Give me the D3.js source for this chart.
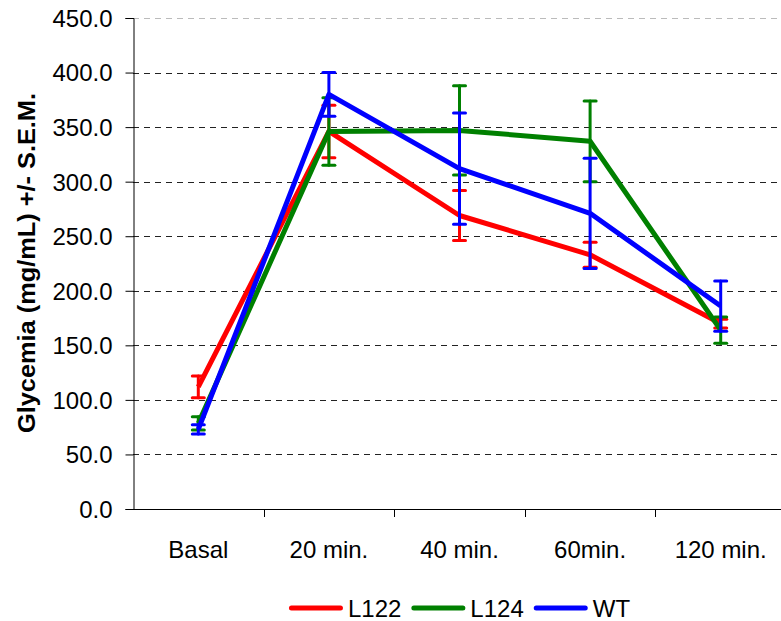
<!DOCTYPE html>
<html>
<head>
<meta charset="utf-8">
<script src="https://cdn.jsdelivr.net/npm/d3@7"></script>
<style>
  body { margin: 0; background: #fff; }
  text { font-family: "Liberation Sans", Arial, sans-serif; fill: #000; }
</style>
</head>
<body>
<div id="chart"></div>
<script>
const categories = ["Basal", "20 min.", "40 min.", "60min.", "120 min."];
const yTicks = [0, 50, 100, 150, 200, 250, 300, 350, 400, 450];

const l122Values = [112, 346, 269, 233, 170];
const l122Errors = [10, 24, 23, 11.5, 4];
const l124Values = [78.5, 346, 347, 337, 164];
const l124Errors = [6, 31, 41, 37, 12];
const wtValues = [73, 380, 312, 271, 186];
const wtErrors = [4.2, 20, 51, 50.5, 23];

const seriesNames = ["L122", "L124", "WT"];
const seriesColors = ["#ff0000", "#008000", "#0000ff"];

const width = 781, height = 621;

const series = [
  { name: seriesNames[0], color: seriesColors[0], values: l122Values, errors: l122Errors },
  { name: seriesNames[1], color: seriesColors[1], values: l124Values, errors: l124Errors },
  { name: seriesNames[2], color: seriesColors[2], values: wtValues, errors: wtErrors }
];

const svg = d3.select("#chart")
  .append("svg")
  .attr("width", width)
  .attr("height", height);

const x = d3.scaleBand()
  .domain(categories)
  .range([133, 786]);

const y = d3.scaleLinear()
  .domain([0, 450])
  .range([509, 18]);

// gridlines
svg.append("g")
  .selectAll("line")
  .data(yTicks.filter(d => d > 0))
  .enter()
  .append("line")
  .attr("x1", 133)
  .attr("x2", width)
  .attr("y1", d => Math.round(y(d)) + 0.5)
  .attr("y2", d => Math.round(y(d)) + 0.5)
  .attr("stroke", d => d === 450 ? "#bbb" : "#222")
  .attr("stroke-width", 1)
  .attr("stroke-dasharray", "6,5");

// y axis
const yAxis = svg.append("g")
  .attr("transform", "translate(133.5,0)")
  .call(d3.axisLeft(y).tickValues(yTicks).tickFormat(d3.format(".1f")).tickSize(8).tickPadding(13));
yAxis.select(".domain").attr("stroke", "#000");
yAxis.selectAll(".tick line").attr("stroke", "#000");
yAxis.selectAll(".tick text")
  .attr("font-size", 24)
  .attr("font-family", "Liberation Sans, Arial, sans-serif")
  .attr("dy", "0.35em");

// x axis
const xAxis = svg.append("g")
  .attr("transform", `translate(0,${Math.round(y(0)) + 0.5})`)
  .call(d3.axisBottom(x).tickSize(0).tickPadding(31));
xAxis.select(".domain").attr("d", `M133,0H${width}`).attr("stroke", "#000");
xAxis.selectAll(".tick text")
  .attr("font-size", 24)
  .attr("font-family", "Liberation Sans, Arial, sans-serif");

// category separators on x axis
svg.append("g")
  .selectAll("line")
  .data(categories.slice(1))
  .enter()
  .append("line")
  .attr("x1", d => Math.round(x(d)) + 0.5)
  .attr("x2", d => Math.round(x(d)) + 0.5)
  .attr("y1", Math.round(y(0)))
  .attr("y2", Math.round(y(0)) + 8)
  .attr("stroke", "#000");

const cx = d => x(d) + x.bandwidth() / 2;

const line = d3.line()
  .x((d, i) => cx(categories[i]))
  .y(d => y(d));

series.forEach(s => {
  const g = svg.append("g");

  g.append("path")
    .datum(s.values)
    .attr("fill", "none")
    .attr("stroke", s.color)
    .attr("stroke-width", 5)
    .attr("stroke-linejoin", "round")
    .attr("d", line);

  const bars = g.selectAll(".err")
    .data(s.values.map((v, i) => ({ cat: categories[i], v, e: s.errors[i] })))
    .enter()
    .append("g")
    .attr("stroke", s.color)
    .attr("stroke-width", 3)
    .attr("stroke-linecap", "round");

  bars.append("line")
    .attr("x1", d => cx(d.cat))
    .attr("x2", d => cx(d.cat))
    .attr("y1", d => y(d.v + d.e))
    .attr("y2", d => y(d.v - d.e));

  [1, -1].forEach(sign => {
    bars.append("line")
      .attr("x1", d => cx(d.cat) - 6)
      .attr("x2", d => cx(d.cat) + 6)
      .attr("y1", d => y(d.v + sign * d.e))
      .attr("y2", d => y(d.v + sign * d.e));
  });
});

// y axis title
svg.append("text")
  .attr("transform", "translate(35,263) rotate(-90)")
  .attr("text-anchor", "middle")
  .attr("font-size", 24)
  .attr("font-weight", "bold")
  .attr("textLength", 340)
  .attr("lengthAdjust", "spacingAndGlyphs")
  .text("Glycemia (mg/mL) +/- S.E.M.");

// legend
const legend = svg.append("g");
let lx = 0;
series.forEach(s => {
  const item = legend.append("g").attr("transform", `translate(${lx},0)`);
  item.append("line")
    .attr("x1", 2.5).attr("x2", 51.5)
    .attr("y1", 0).attr("y2", 0)
    .attr("stroke", s.color)
    .attr("stroke-width", 5)
    .attr("stroke-linecap", "round");
  const t = item.append("text")
    .attr("x", 59)
    .attr("y", 8.5)
    .attr("font-size", 24)
    .text(s.name);
  lx += 59 + t.node().getComputedTextLength() + 10;
});
const legendW = lx - 10;
legend.attr("transform", `translate(${(133 + 786) / 2 - legendW / 2},608)`);
</script>
</body>
</html>
